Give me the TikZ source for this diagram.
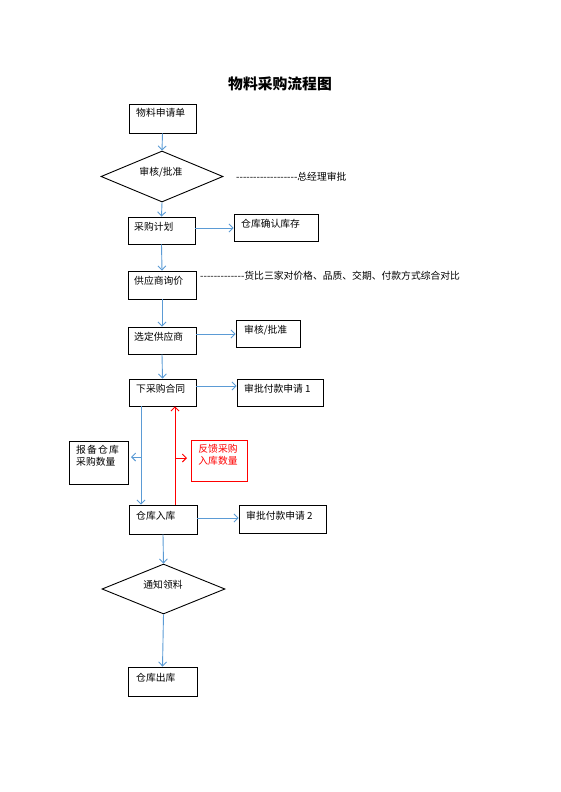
\documentclass[tikz,border=0pt]{standalone}
\usepackage{fontspec}
\newfontfamily\cjk{Noto Sans CJK SC}
\usetikzlibrary{shapes.geometric,arrows.meta}
\definecolor{flowblue}{HTML}{5B9BD5}
\definecolor{flowred}{HTML}{FF0000}
\tikzset{
  box/.style={draw=black,line width=0.9pt,inner sep=0pt,rectangle},
  redbox/.style={draw=flowred,line width=0.9pt,inner sep=0pt,rectangle},
  dia/.style={draw=black,line width=0.9pt,inner sep=0pt,diamond},
  lbl/.style={inner sep=0pt,font=\cjk\fontsize{9.8}{12}\selectfont,anchor=west},
  clbl/.style={inner sep=0pt,font=\cjk\fontsize{9.8}{12}\selectfont,align=center},
  flow/.style={draw=flowblue,line width=0.9pt,-{Straight Barb[length=4pt,width=8pt]}},
  rflow/.style={draw=flowred,line width=0.9pt,-{Straight Barb[length=4pt,width=8pt]}},
}
\begin{document}
\begin{tikzpicture}[x=1pt,y=-1pt]
\useasboundingbox (0,0) rectangle (560,792);
\node[inner sep=0pt,font=\cjk\bfseries\fontsize{14.8}{16}\selectfont] (title) at (280,84) {物料采购流程图};

\node[box,minimum width=67pt,minimum height=29pt] (b1) at (162.5,118.5) {};
\node[lbl] (t1) at (136,113) {物料申请单};

\node[dia,minimum width=122pt,minimum height=51pt] (d1) at (162,176.5) {};
\node[clbl] (td1) at (161,172) {审核/批准};
\node[lbl] (n1) at (236,177) {------------------总经理审批};

\node[box,minimum width=67pt,minimum height=27pt] (b3) at (161.5,230.5) {};
\node[lbl] (t3) at (134,227) {采购计划};
\node[box,minimum width=84pt,minimum height=27pt] (b4) at (276,227.5) {};
\node[lbl] (t4) at (241,224) {仓库确认库存};

\node[box,minimum width=68pt,minimum height=28pt] (b5) at (162,285) {};
\node[lbl] (t5) at (134,281) {供应商询价};
\node[lbl] (n2) at (200,276) {-------------货比三家对价格、品质、交期、付款方式综合对比};

\node[box,minimum width=68pt,minimum height=27pt] (b6) at (162,340.5) {};
\node[lbl] (t6) at (134,337) {选定供应商};
\node[box,minimum width=64pt,minimum height=27pt] (b6r) at (268,333.5) {};
\node[lbl] (t6r) at (244,330) {审核/批准};

\node[box,minimum width=67pt,minimum height=27pt] (b7) at (162.5,392.5) {};
\node[lbl] (t7) at (136,389) {下采购合同};
\node[box,minimum width=86pt,minimum height=27pt] (b8) at (280,392.5) {};
\node[lbl] (t8) at (244,389) {审批付款申请 1};

\node[box,minimum width=59pt,minimum height=43pt] (b9) at (98.5,462.5) {};
\node[lbl,align=left,anchor=north west,font=\cjk\fontsize{9.8}{12}\selectfont] (t9) at (76,445) {报\hspace{1.2pt}备\hspace{1.2pt}仓\hspace{1.2pt}库\\采购数量};

\node[redbox,minimum width=56pt,minimum height=41pt] (b10) at (219,460.5) {};
\node[clbl,text=flowred,anchor=north,font=\cjk\fontsize{9.8}{11.5}\selectfont] (t10) at (218,444.5) {反馈采购\\入库数量};

\node[box,minimum width=68pt,minimum height=29pt] (b11) at (163,519.5) {};
\node[lbl] (t11) at (136,516) {仓库入库};
\node[box,minimum width=87pt,minimum height=28pt] (b12) at (282.5,519) {};
\node[lbl] (t12) at (246,516) {审批付款申请 2};

\node[dia,minimum width=123pt,minimum height=50pt] (d2) at (163.5,589) {};
\node[clbl] (td2) at (163,585) {通知领料};

\node[box,minimum width=69pt,minimum height=29pt] (b13) at (162.5,681.5) {};
\node[lbl] (t13) at (136,678) {仓库出库};

% connectors
\draw[flow] (b1.south) -- (d1.north);
\draw[flow] (d1.south) -- (b3.north);
\draw[flow] ([yshift=2.5pt]b3.east) -- ([yshift=2.5pt]b3.east -| b4.west);
\draw[flow] (b3.south) -- (b5.north);
\draw[flow] (b5.south) -- (b6.north);
\draw[flow] ([yshift=6.5pt]b6.east) -- ([yshift=6.5pt]b6.east -| b6r.west);
\draw[flow] (b6.south) -- (b7.north);
\draw[flow] ([yshift=6.5pt]b7.east) -- ([yshift=6.5pt]b7.east -| b8.west);
\draw[flow] ([xshift=-21.5pt]b7.south) -- ([xshift=-21.5pt]b7.south |- b11.north);
\coordinate (bj) at (141,457);
\coordinate (bt) at (131,457);
\draw[flow] (bj) -- (bt);
\draw[rflow] ([xshift=12pt]b11.north) -- ([xshift=12pt]b11.north |- b7.south);
\coordinate (rj) at (175,458);
\coordinate (rt) at (187,458);
\draw[rflow] (rj) -- (rt);
\draw[flow] ([yshift=1.5pt]b11.east) -- ([yshift=1.5pt]b11.east -| b12.west);
\draw[flow] (b11.south) -- (d2.north);
\draw[flow] (d2.south) -- (b13.north);
\end{tikzpicture}
\end{document}
